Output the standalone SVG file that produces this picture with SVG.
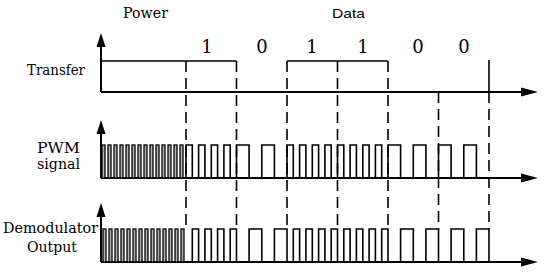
<svg xmlns="http://www.w3.org/2000/svg" width="550" height="276" viewBox="0 0 550 276">
<style>
.ax{stroke:#000;stroke-width:2;fill:none}
.sig{stroke:#000;stroke-width:1.6;fill:none;stroke-linejoin:miter}
.dash{stroke:#000;stroke-width:1.6;fill:none;stroke-dasharray:11 6}
.pw{stroke:#000;stroke-width:1.3;fill:#b5b5b5}
.lbl{font-family:"DejaVu Serif","Liberation Serif",serif;font-size:14px;fill:#000}
.dig{font-family:"DejaVu Serif","Liberation Serif",serif;font-size:18px;fill:#000;text-anchor:middle}
.ah{fill:#000}
</style>
<defs>
<polygon id="upArrow" points="0,-14 -4.5,0 4.5,0" class="ah"/>
<polygon id="rightArrow" points="0,0 -17,-4.5 -17,4.5" class="ah"/>
<g id="pwrPulses">
<rect x="0" y="0" width="3" height="33"/>
<rect x="6" y="0" width="3" height="33"/>
<rect x="12" y="0" width="3" height="33"/>
<rect x="18" y="0" width="3" height="33"/>
<rect x="24" y="0" width="3" height="33"/>
<rect x="30" y="0" width="3" height="33"/>
<rect x="36" y="0" width="3" height="33"/>
<rect x="42" y="0" width="3" height="33"/>
<rect x="48" y="0" width="3" height="33"/>
<rect x="54" y="0" width="3" height="33"/>
<rect x="60" y="0" width="3" height="33"/>
<rect x="66" y="0" width="3" height="33"/>
<rect x="72" y="0" width="3" height="33"/>
<rect x="78" y="0" width="3" height="33"/>
</g>
</defs>

<g id="labels">
<text class="lbl" x="123" y="18" textLength="45" lengthAdjust="spacingAndGlyphs">Power</text>
<text x="332" y="18" textLength="33" lengthAdjust="spacingAndGlyphs" style="font-family:'Liberation Sans',Arial,sans-serif;font-size:13px">Data</text>
<text class="dig" x="207" y="53">1</text>
<text class="dig" x="262" y="53">0</text>
<text class="dig" x="312" y="53">1</text>
<text class="dig" x="363" y="53">1</text>
<text class="dig" x="418" y="53">0</text>
<text class="dig" x="464" y="53">0</text>
<text class="lbl" x="27" y="75" textLength="58" lengthAdjust="spacingAndGlyphs">Transfer</text>
<text class="lbl" x="37" y="153" textLength="43" lengthAdjust="spacingAndGlyphs">PWM</text>
<text class="lbl" x="37" y="169" textLength="43" lengthAdjust="spacingAndGlyphs">signal</text>
<text class="lbl" x="3" y="233" textLength="95" lengthAdjust="spacingAndGlyphs">Demodulator</text>
<text class="lbl" x="27" y="252" textLength="50" lengthAdjust="spacingAndGlyphs">Output</text>
</g>

<g id="axes">
<path class="ax" d="M101,92 V45 M101,92 H524"/>
<use href="#upArrow" x="101" y="47"/>
<use href="#rightArrow" x="538" y="92"/>
<path class="ax" d="M101,178 V132 M101,178 H524"/>
<use href="#upArrow" x="101" y="134"/>
<use href="#rightArrow" x="538" y="178"/>
<path class="ax" d="M101,262 V217 M101,262 H524"/>
<use href="#upArrow" x="101" y="217"/>
<use href="#rightArrow" x="538" y="262"/>
</g>

<g id="transfer">
<path class="sig" d="M101,61 H236.5 M287,61 H388 M489,60 V92"/>
</g>

<g id="pwm">
<g class="pw" transform="translate(102,145)"><use href="#pwrPulses"/></g>
<path class="sig" d="M186,178 V145 H192.3 V178 H198.6 V145 H204.9 V178 H211.3 V145 H217.6 V178 H223.9 V145 H230.2 V178 H236.5 V145 H249.1 V178 H261.8 V145 H274.4 V178 H287 V145 H293.3 V178 H299.6 V145 H305.9 V178 H312.3 V145 H318.6 V178 H324.9 V145 H331.2 V178 H337.5 V145 H343.8 V178 H350.1 V145 H356.4 V178 H362.8 V145 H369.1 V178 H375.4 V145 H381.7 V178 H388 V145 H400.6 V178 H413.3 V145 H425.9 V178 H438.5 V145 H451.1 V178 H463.8 V145 H476.4 V178"/>
</g>

<g id="demod">
<g class="pw" transform="translate(103,229)"><use href="#pwrPulses"/></g>
<path class="sig" d="M186,262 H192.3 V229 H198.6 V262 H204.9 V229 H211.3 V262 H217.6 V229 H223.9 V262 H230.2 V229 H236.5 V262 H249.1 V229 H261.8 V262 H274.4 V229 H287 V262 H293.3 V229 H299.6 V262 H305.9 V229 H312.3 V262 H318.6 V229 H324.9 V262 H331.2 V229 H337.5 V262 H343.8 V229 H350.1 V262 H356.4 V229 H362.8 V262 H369.1 V229 H375.4 V262 H381.7 V229 H388 V262 H400.6 V229 H413.3 V262 H425.9 V229 H438.5 V262 H451.1 V229 H463.8 V262 H476.4 V229 H489 V262"/>
</g>

<g id="connectors">
<path class="dash" d="M186,61 V229 M236.5,61 V229 M287,61 V229 M337.5,61 V229 M388,61 V229 M438.5,92 V229 M489,92 V229"/>
</g>
</svg>
